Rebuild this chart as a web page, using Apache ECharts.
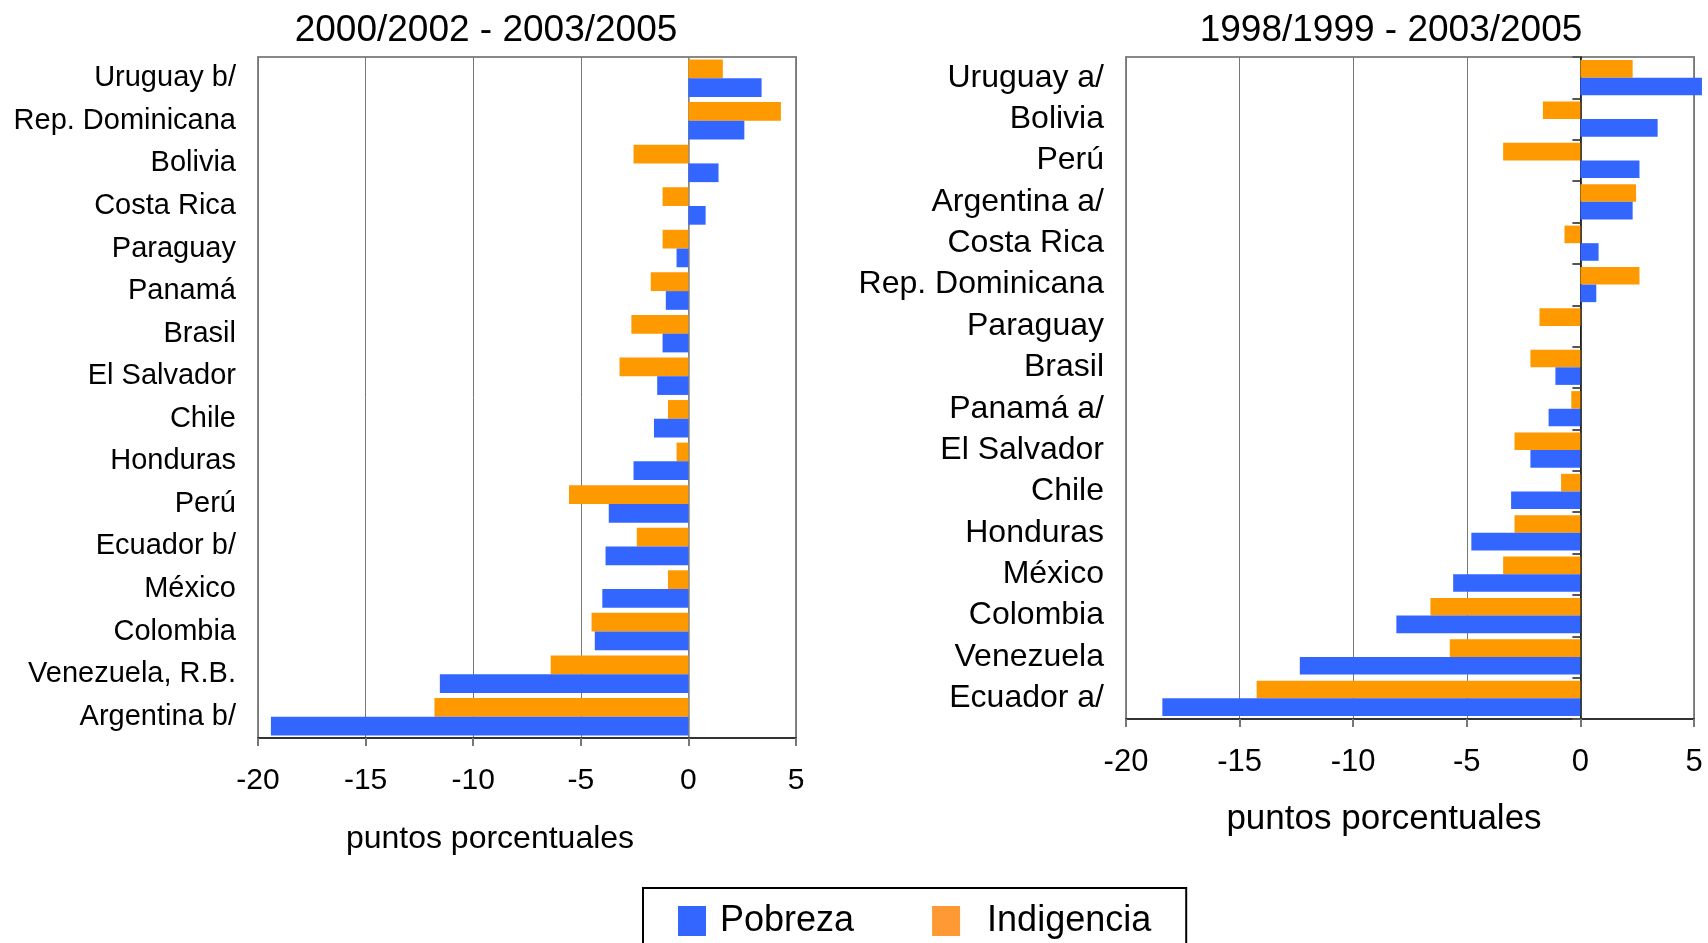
<!DOCTYPE html>
<html>
<head>
<meta charset="utf-8">
<script src="https://cdn.jsdelivr.net/npm/echarts@6/dist/echarts.min.js"></script>
<style>
  html, body { margin: 0; padding: 0; background: #fff; }
  #main { width: 1708px; height: 943px; }
</style>
</head>
<body>
<div id="main"></div>
<script>
// panel 1: 2000/2002 - 2003/2005 (top to bottom)
var leftCats = ['Uruguay b/', 'Rep. Dominicana', 'Bolivia', 'Costa Rica', 'Paraguay', 'Panamá', 'Brasil', 'El Salvador',
  'Chile', 'Honduras', 'Perú', 'Ecuador b/', 'México', 'Colombia', 'Venezuela, R.B.', 'Argentina b/'];
var leftPobreza = [3.4, 2.6, 1.4, 0.8, -0.55, -1.05, -1.2, -1.45, -1.6, -2.55, -3.7, -3.85, -4.0, -4.35, -11.55, -19.4];
var leftIndigencia = [1.6, 4.3, -2.55, -1.2, -1.2, -1.75, -2.65, -3.2, -0.95, -0.55, -5.55, -2.4, -0.95, -4.5, -6.4, -11.8];

// panel 2: 1998/1999 - 2003/2005
var rightCats = ['Uruguay a/', 'Bolivia', 'Perú', 'Argentina a/', 'Costa Rica', 'Rep. Dominicana', 'Paraguay', 'Brasil',
  'Panamá a/', 'El Salvador', 'Chile', 'Honduras', 'México', 'Colombia', 'Venezuela', 'Ecuador a/'];
var rightPobreza = [5.35, 3.4, 2.6, 2.3, 0.8, 0.7, 0, -1.1, -1.4, -2.2, -3.05, -4.8, -5.6, -8.1, -12.35, -18.4];
var rightIndigencia = [2.3, -1.65, -3.4, 2.45, -0.7, 2.6, -1.8, -2.2, -0.4, -2.9, -0.85, -2.9, -3.4, -6.6, -5.75, -14.25];

var xTicks = { min: -20, max: 5, interval: 5 };
var FONT = 'Liberation Sans, Arial, sans-serif';
var BLUE = '#3366FF', ORANGE = '#FF9900';

var chart = echarts.init(document.getElementById('main'));

function valueAxis(gi, size) {
  return {
    type: 'value', gridIndex: gi, min: xTicks.min, max: xTicks.max, interval: xTicks.interval,
    axisLine: { show: true, lineStyle: { color: '#333', width: 2 } },
    axisTick: { show: true, length: 8, lineStyle: { color: '#777', width: 2 } },
    axisLabel: { fontFamily: FONT, fontSize: size, color: '#000', margin: 28 },
    splitLine: { show: true, lineStyle: { color: '#777', width: 1 } }
  };
}

function labelAxis(gi, cats, size) {
  return {
    type: 'category', gridIndex: gi, data: cats, inverse: true,
    axisLine: { show: false, onZero: false },
    axisTick: { show: false },
    axisLabel: { fontFamily: FONT, fontSize: size, color: '#000', margin: 22, interval: 0 }
  };
}

function zeroAxis(gi, cats, color, tick) {
  return {
    type: 'category', gridIndex: gi, data: cats, inverse: true, position: 'left',
    axisLine: { show: true, onZero: true, lineStyle: { color: color, width: 1.5 } },
    axisTick: { show: tick, length: 8, interval: 0, lineStyle: { color: '#555', width: 2 } },
    axisLabel: { show: false }
  };
}

chart.setOption({
  animation: false,
  title: [
    { text: '2000/2002 - 2003/2005', left: 481, top: 7, textAlign: 'center',
      textStyle: { fontFamily: FONT, fontSize: 37, fontWeight: 'normal', color: '#000' } },
    { text: '1998/1999 - 2003/2005', left: 1386, top: 7, textAlign: 'center',
      textStyle: { fontFamily: FONT, fontSize: 37, fontWeight: 'normal', color: '#000' } }
  ],
  legend: {
    data: [
      { name: 'Pobreza', itemStyle: { color: BLUE } },
      { name: 'Indigencia', itemStyle: { color: '#FF9933' },
        textStyle: { fontFamily: FONT, fontSize: 36, color: '#000', padding: [0, 0, 0, 22] } }
    ],
    left: 643, top: 888,
    orient: 'horizontal',
    padding: [15, 35, 15, 35],
    borderColor: '#000', borderWidth: 2,
    itemWidth: 28, itemHeight: 30, itemGap: 78,
    icon: 'rect',
    textStyle: { fontFamily: FONT, fontSize: 36, color: '#000', padding: [0, 0, 0, 9] }
  },
  graphic: [
    { type: 'text', x: 490, y: 839, style: { text: 'puntos porcentuales', font: '32px ' + FONT, fill: '#000',
      textAlign: 'center', textVerticalAlign: 'middle' } },
    { type: 'text', x: 1384, y: 819, style: { text: 'puntos porcentuales', font: '35px ' + FONT, fill: '#000',
      textAlign: 'center', textVerticalAlign: 'middle' } }
  ],
  grid: [
    { left: 258, right: 912, top: 57, bottom: 205, show: true, borderColor: '#888', borderWidth: 2 },
    { left: 1126, right: 14, top: 57, bottom: 224, show: true, borderColor: '#888', borderWidth: 2 }
  ],
  xAxis: [valueAxis(0, 30), valueAxis(1, 31)],
  yAxis: [
    labelAxis(0, leftCats, 29),
    zeroAxis(0, leftCats, '#888', false),
    labelAxis(1, rightCats, 32),
    zeroAxis(1, rightCats, '#000', true)
  ],
  series: [
    { name: 'Indigencia', type: 'bar', xAxisIndex: 0, yAxisIndex: 0, data: leftIndigencia,
      itemStyle: { color: ORANGE }, barGap: '0%', barCategoryGap: '12%' },
    { name: 'Pobreza', type: 'bar', xAxisIndex: 0, yAxisIndex: 0, data: leftPobreza,
      itemStyle: { color: BLUE }, barGap: '0%', barCategoryGap: '12%' },
    { name: 'Indigencia', type: 'bar', xAxisIndex: 1, yAxisIndex: 2, data: rightIndigencia,
      itemStyle: { color: ORANGE }, barGap: '0%', barCategoryGap: '15%' },
    { name: 'Pobreza', type: 'bar', xAxisIndex: 1, yAxisIndex: 2, data: rightPobreza, clip: false,
      itemStyle: { color: BLUE }, barGap: '0%', barCategoryGap: '15%' }
  ]
});
</script>
</body>
</html>
